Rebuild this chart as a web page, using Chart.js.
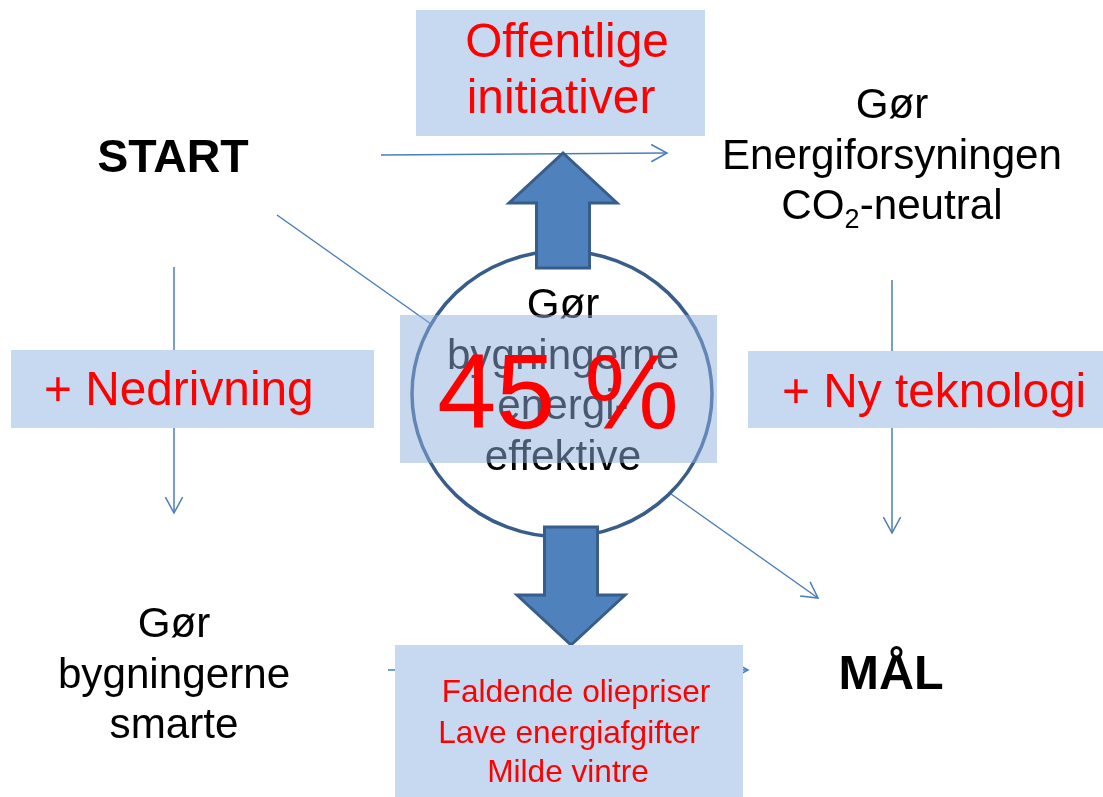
<!DOCTYPE html>
<html>
<head>
<meta charset="utf-8">
<script src="https://cdn.jsdelivr.net/npm/chart.js@4.4.1/dist/chart.umd.min.js"></script>
<style>
  html, body { margin: 0; padding: 0; background: #fff; }
  #wrap { width: 1103px; height: 797px; position: relative; }
</style>
</head>
<body>
<div id="wrap"><canvas id="diagram"></canvas></div>
<script>
// diagram space: x 0..1103 to the right, y 0..797 downwards
const connectorNames = ['START-Energi', 'START-Smarte', 'Energi-MAAL', 'START-MAAL', 'Smarte-MAAL'];
const connectorStartX = [381, 174, 892, 277, 388];
const connectorStartY = [155, 267, 280, 215, 670];
const connectorEndX = [667, 174, 892, 818, 748];
const connectorEndY = [153, 513, 533, 598, 670];

const nodeLines = [
    ['START'],
    ['MÅL'],
    ['Gør', 'Energiforsyningen', 'CO2-neutral'],
    ['Gør', 'bygningerne', 'smarte'],
    ['Gør', 'bygningerne', 'energi-', 'effektive']
];
const nodeX = [173, 891, 892, 174, 563];
const nodeY = [172, 689, 118, 637, 318];

const factorLines = [
    ['Offentlige', 'initiativer'],
    ['+ Nedrivning'],
    ['+ Ny teknologi'],
    ['Faldende oliepriser', 'Lave energiafgifter', 'Milde vintre']
];
const factorBoxX0 = [416, 11, 748, 395];
const factorBoxX1 = [705, 374, 1103, 743];
const factorBoxY0 = [10, 350, 351, 645];
const factorBoxY1 = [136, 428, 428, 797];

const shareLabel = '45 %';

const FONT = '"Liberation Sans", Arial, sans-serif';
const LINK = '#4A7EBB';
const BOX = '#C6D9F1';

function blockArrow(ctx, sx, sy, cx, y0, tipY) {
    // shaft from y0 towards tipY, head at tipY
    const dir = tipY < y0 ? -1 : 1;
    const shaftW = (sx(26.5) - sx(0));
    const headW = (sx(54) - sx(0));
    const headL = Math.abs(sy(50) - sy(0));
    const x = sx(cx), a = sy(y0), t = sy(tipY);
    const hb = t - dir * headL;
    ctx.beginPath();
    ctx.moveTo(x - shaftW, a);
    ctx.lineTo(x - shaftW, hb);
    ctx.lineTo(x - headW, hb);
    ctx.lineTo(x, t);
    ctx.lineTo(x + headW, hb);
    ctx.lineTo(x + shaftW, hb);
    ctx.lineTo(x + shaftW, a);
    ctx.closePath();
    ctx.fillStyle = '#4F81BD';
    ctx.fill();
    ctx.lineWidth = 3;
    ctx.strokeStyle = '#385D8A';
    ctx.lineJoin = 'miter';
    ctx.stroke();
}

function textLine(ctx, str, x, y, align) {
    // CO2 gets a real subscript
    if (str.indexOf('CO2') === 0) {
        const big = ctx.font;
        const m1 = ctx.measureText('CO').width;
        const m3 = ctx.measureText(str.slice(3)).width;
        ctx.font = '27px ' + FONT;
        const m2 = ctx.measureText('2').width;
        const total = m1 + m2 + m3;
        let left = align === 'center' ? x - total / 2 : x;
        ctx.textAlign = 'left';
        ctx.fillText('2', left + m1, y + 9);
        ctx.font = big;
        ctx.fillText('CO', left, y);
        ctx.fillText(str.slice(3), left + m1 + m2, y);
        ctx.textAlign = align;
        return;
    }
    ctx.textAlign = align;
    ctx.fillText(str, x, y);
}

const diagramPlugin = {
    id: 'diagram',
    afterDatasetsDraw(chart) {
        const ctx = chart.ctx;
        const sx = v => chart.scales.x.getPixelForValue(v);
        const sy = v => chart.scales.y.getPixelForValue(v);
        ctx.save();

        // open arrowheads on connectors
        chart.data.datasets.forEach((ds, i) => {
            const pts = chart.getDatasetMeta(i).data;
            const p0 = pts[0], p1 = pts[pts.length - 1];
            const ang = Math.atan2(p1.y - p0.y, p1.x - p0.x);
            ctx.beginPath();
            ctx.moveTo(p1.x - 18 * Math.cos(ang - 0.5), p1.y - 18 * Math.sin(ang - 0.5));
            ctx.lineTo(p1.x, p1.y);
            ctx.lineTo(p1.x - 18 * Math.cos(ang + 0.5), p1.y - 18 * Math.sin(ang + 0.5));
            ctx.strokeStyle = LINK;
            ctx.lineWidth = 1.5;
            ctx.stroke();
        });

        // centre circle
        const cx = sx(562), cy = sy(394);
        ctx.beginPath();
        ctx.ellipse(cx, cy, sx(150) - sx(0), sy(143) - sy(0), 0, 0, Math.PI * 2);
        ctx.fillStyle = '#ffffff';
        ctx.fill();
        ctx.lineWidth = 3.5;
        ctx.strokeStyle = '#385D8A';
        ctx.stroke();

        // text nodes
        ctx.fillStyle = '#000';
        ctx.textBaseline = 'alphabetic';
        nodeLines.forEach((lines, i) => {
            const bold = lines.length === 1;
            ctx.font = bold ? (i === 0 ? 'bold 46.5px ' : 'bold 48.5px ') + FONT : '42.2px ' + FONT;
            lines.forEach((s, k) => textLine(ctx, s, sx(nodeX[i]), sy(nodeY[i] + k * 50.5), 'center'));
        });

        // translucent box over circle and big share
        ctx.fillStyle = 'rgba(141, 176, 222, 0.5)';
        ctx.fillRect(sx(400), sy(315), sx(717) - sx(400), sy(463) - sy(315));
        ctx.fillStyle = '#FF0000';
        ctx.font = '106px ' + FONT;
        ctx.textAlign = 'center';
        ctx.fillText(shareLabel, sx(558), sy(428));

        // block arrows
        blockArrow(ctx, sx, sy, 563, 268, 153);
        blockArrow(ctx, sx, sy, 571, 527, 645);

        // factor boxes
        factorLines.forEach((lines, i) => {
            ctx.fillStyle = BOX;
            ctx.fillRect(sx(factorBoxX0[i]), sy(factorBoxY0[i]),
                sx(factorBoxX1[i]) - sx(factorBoxX0[i]), sy(factorBoxY1[i]) - sy(factorBoxY0[i]));
        });
        ctx.fillStyle = '#FF0000';
        ctx.font = '47.8px ' + FONT;
        textLine(ctx, factorLines[0][0], sx(567), sy(57), 'center');
        textLine(ctx, factorLines[0][1], sx(561), sy(113), 'center');
        textLine(ctx, factorLines[1][0], sx(44), sy(405), 'left');
        textLine(ctx, factorLines[2][0], sx(782), sy(407), 'left');
        ctx.font = '31.6px ' + FONT;
        textLine(ctx, factorLines[3][0], sx(576), sy(702), 'center');
        textLine(ctx, factorLines[3][1], sx(569), sy(743), 'center');
        textLine(ctx, factorLines[3][2], sx(568), sy(782), 'center');

        ctx.restore();
    }
};

new Chart(document.getElementById('diagram'), {
    type: 'scatter',
    data: {
        datasets: connectorNames.map((name, i) => ({
            label: name,
            data: [
                { x: connectorStartX[i], y: connectorStartY[i] },
                { x: connectorEndX[i], y: connectorEndY[i] }
            ],
            showLine: true,
            borderColor: LINK,
            borderWidth: 1.5,
            pointRadius: 0,
            fill: false
        }))
    },
    options: {
        responsive: true,
        maintainAspectRatio: false,
        animation: false,
        layout: { padding: 0 },
        plugins: { legend: { display: false }, tooltip: { enabled: false } },
        scales: {
            x: { type: 'linear', min: 0, max: 1103, display: false },
            y: { type: 'linear', min: 0, max: 797, reverse: true, display: false }
        }
    },
    plugins: [diagramPlugin]
});
</script>
</body>
</html>
